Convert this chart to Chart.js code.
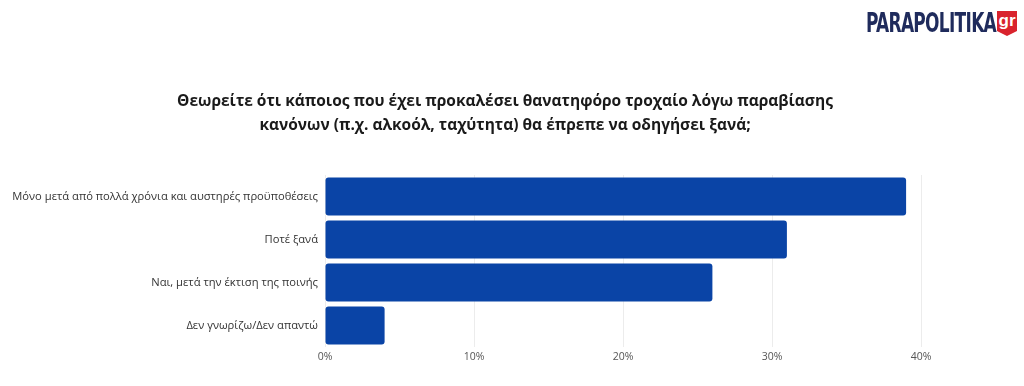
<!DOCTYPE html>
<html>
<head>
<meta charset="utf-8">
<script src="https://cdn.jsdelivr.net/npm/chart.js@4.4.1/dist/chart.umd.min.js"></script>
<style>
  html, body { margin:0; padding:0; background:#fff; }
  #wrap { position:relative; width:1024px; height:386px; }
  #judul { position:absolute; left:0; width:1010px; top:88px; text-align:center;
    font-family:"Open Sans","Noto Sans",sans-serif; font-weight:700; font-size:15.5px; line-height:24px; color:#1a1a1a; }
  #logo { position:absolute; left:866px; top:9px; height:28px; }
  #logo .txt { position:absolute; left:0; top:0; white-space:nowrap; font-family:"Liberation Sans Narrow","DejaVu Sans Condensed",sans-serif; font-weight:700;
    font-size:27px; line-height:28px; color:#1f2b5c; letter-spacing:-1px; transform:scaleX(0.7); transform-origin:left top; }
  #logo .gr { position:absolute; left:131px; top:2px; width:20px; height:25px; background:#d9232d; color:#fff;
    font-family:"Liberation Sans Narrow",sans-serif; font-weight:700; font-size:17px; line-height:19px; text-align:center;
    clip-path:polygon(0 0,100% 0,100% 80%,50% 100%,0 80%); }
</style>
</head>
<body>
<div id="wrap">
  <canvas id="chart" width="1024" height="386"></canvas>
  <div id="judul"></div>
  <div id="logo"><span class="txt">PARAPOLITIKA</span><span class="gr">gr</span></div>
</div>
<script>
// ── Data ──────────────────────────────────────────────
const kategori = [
  'Μόνο μετά από πολλά χρόνια και αυστηρές προϋποθέσεις',
  'Ποτέ ξανά',
  'Ναι, μετά την έκτιση της ποινής',
  'Δεν γνωρίζω/Δεν απαντώ'
];
const nilai = [39, 31, 26, 4];
const tickLabels = ['0%', '10%', '20%', '30%', '40%'];
const judul = [
  'Θεωρείτε ότι κάποιος που έχει προκαλέσει θανατηφόρο τροχαίο λόγω παραβίασης',
  'κανόνων (π.χ. αλκοόλ, ταχύτητα) θα έπρεπε να οδηγήσει ξανά;'
];

document.getElementById('judul').innerHTML = judul.join('<br>');

Chart.defaults.font.family = '"Open Sans", "Noto Sans", sans-serif';
Chart.defaults.devicePixelRatio = 1;

new Chart(document.getElementById('chart'), {
  type: 'bar',
  data: {
    labels: kategori,
    datasets: [{
      data: nilai,
      backgroundColor: '#0a44a6',
      borderRadius: 3,
      borderSkipped: false,
      categoryPercentage: 1,
      barPercentage: 0.88
    }]
  },
  options: {
    indexAxis: 'y',
    responsive: false,
    animation: false,
    layout: { padding: { top: 175, left: 0, right: 103, bottom: 14 } },
    plugins: {
      legend: { display: false },
      tooltip: { enabled: false },
      title: { display: false }
    },
    scales: {
      x: {
        min: 0, max: 40,
        ticks: {
          stepSize: 10,
          color: '#555',
          font: { size: 10.5 },
          padding: 4,
          callback: (v, i) => tickLabels[i]
        },
        grid: { color: '#ececec', drawTicks: false },
        border: { display: false },
        afterFit: s => { s.height = 25; }
      },
      y: {
        ticks: { color: '#333', font: { size: 11.2 }, padding: 7 },
        grid: { display: false, drawTicks: false },
        border: { display: false },
        afterFit: s => { s.width = 325; }
      }
    }
  }
});
</script>
</body>
</html>
